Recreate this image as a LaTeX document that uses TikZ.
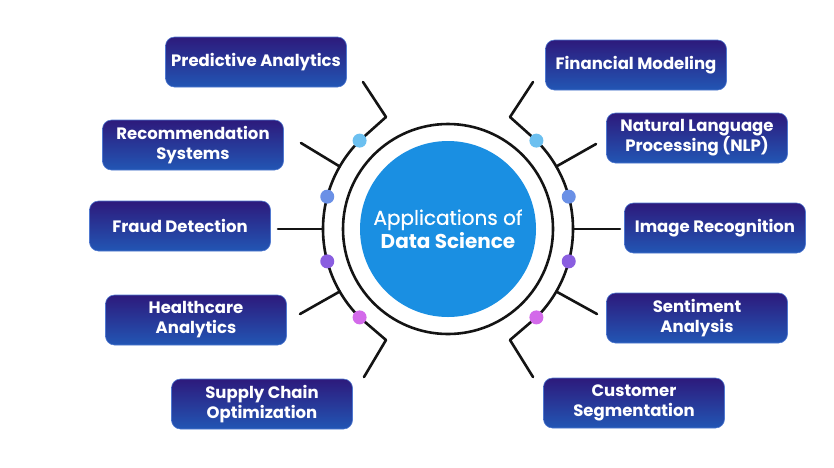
\documentclass[tikz,border=0pt]{standalone}
\usepackage{fontspec}
\setmainfont{Poppins}
\newfontfamily\popmedium{Poppins}[FakeBold=0.7]
\usetikzlibrary{calc}
\definecolor{boxtop}{HTML}{2D1A7C}
\definecolor{boxbot}{HTML}{2256B4}
\definecolor{boxedge}{HTML}{4F78D0}
\definecolor{hubblue}{HTML}{1A8FE2}
\definecolor{beadA}{HTML}{6CC0F0}
\definecolor{beadB}{HTML}{6A90E6}
\definecolor{beadC}{HTML}{8A5EE0}
\definecolor{beadD}{HTML}{D36AEA}
\definecolor{wirecol}{HTML}{141414}
\begin{document}
\begin{tikzpicture}[x=1pt,y=-1pt,
  appbox/.style={rounded corners=9pt, minimum width=181pt, minimum height=50pt,
    top color=boxtop, bottom color=boxbot, draw=boxedge, line width=0.6pt,
    text=white, font=\fontsize{16.5}{20}\selectfont\bfseries, align=center, inner sep=0pt},
  wire/.style={draw=wirecol, line width=2.6pt, line cap=round, line join=round},
  bead/.style={circle, minimum size=14pt, inner sep=0pt}
]
% canvas
\fill[white] (0,0) rectangle (834,467);
\useasboundingbox (0,0) rectangle (834,467);

% hub
\coordinate (C) at (448,229);
\draw[wire] (C) circle[radius=105];
\node[circle, fill=hubblue, minimum size=176pt, inner sep=0pt, text=white, align=center,
  font=\fontsize{20}{23.5}\selectfont]
  (hub) at (C) {\popmedium Applications of\\\bfseries Data Science};

% outer arcs
\draw[wire] (C) ++(135:125) arc[start angle=135, end angle=225, radius=125];
\draw[wire] (C) ++(-45:125) arc[start angle=-45, end angle=45, radius=125];

% points on the outer arcs
\coordinate (l225) at ($(C)+(225:125)$);
\coordinate (l210) at ($(C)+(210:125)$);
\coordinate (l180) at ($(C)+(180:125)$);
\coordinate (l150) at ($(C)+(150:125)$);
\coordinate (l135) at ($(C)+(135:125)$);
\coordinate (r315) at ($(C)+(-45:125)$);
\coordinate (r330) at ($(C)+(-30:125)$);
\coordinate (r0)   at ($(C)+(0:125)$);
\coordinate (r30)  at ($(C)+(30:125)$);
\coordinate (r45)  at ($(C)+(45:125)$);

% application boxes
\node[appbox] (pa)  at (256,62)  {Predictive Analytics};
\node[appbox] (rs)  at (193,145) {Recommendation\\Systems};
\node[appbox] (fd)  at (180,226) {Fraud Detection};
\node[appbox] (ha)  at (196,320) {Healthcare\\Analytics};
\node[appbox] (sc)  at (262,404) {Supply Chain\\Optimization};
\node[appbox] (fm)  at (636,65)  {Financial Modeling};
\node[appbox] (nlp) at (697,138) {Natural Language\\Processing (NLP)};
\node[appbox] (ir)  at (715,228) {Image Recognition};
\node[appbox] (sa)  at (697,318) {Sentiment\\Analysis};
\node[appbox] (cs)  at (634,403) {Customer\\Segmentation};

% connector ends and bends
\coordinate (paEnd) at (363,82);   \coordinate (paBend) at (386,117);
\coordinate (rsEnd) at (301,143);
\coordinate (fdEnd) at (278,229);
\coordinate (haEnd) at (300,314);
\coordinate (scEnd) at (364,377);  \coordinate (scBend) at (386,340);
\coordinate (fmEnd) at (533,82);   \coordinate (fmBend) at (510,117);
\coordinate (nlpEnd) at (596,144);
\coordinate (irEnd) at (620,229);
\coordinate (saEnd) at (597,314);
\coordinate (csEnd) at (533,377);  \coordinate (csBend) at (510,340);

% connectors
\draw[wire] (paEnd) -- (paBend) -- (l225);
\draw[wire] (rsEnd) -- (l210);
\draw[wire] (fdEnd) -- (l180);
\draw[wire] (haEnd) -- (l150);
\draw[wire] (scEnd) -- (scBend) -- (l135);
\draw[wire] (fmEnd) -- (fmBend) -- (r315);
\draw[wire] (nlpEnd) -- (r330);
\draw[wire] (irEnd) -- (r0);
\draw[wire] (saEnd) -- (r30);
\draw[wire] (csEnd) -- (csBend) -- (r45);

% beads
\node[bead, fill=beadA] (b1) at ($(C)+(225:125)$) {};
\node[bead, fill=beadB] (b2) at ($(C)+(195:125)$) {};
\node[bead, fill=beadC] (b3) at ($(C)+(165:125)$) {};
\node[bead, fill=beadD] (b4) at ($(C)+(135:125)$) {};
\node[bead, fill=beadA] (b5) at ($(C)+(-45:125)$) {};
\node[bead, fill=beadB] (b6) at ($(C)+(-15:125)$) {};
\node[bead, fill=beadC] (b7) at ($(C)+(15:125)$) {};
\node[bead, fill=beadD] (b8) at ($(C)+(45:125)$) {};
\end{tikzpicture}
\end{document}
